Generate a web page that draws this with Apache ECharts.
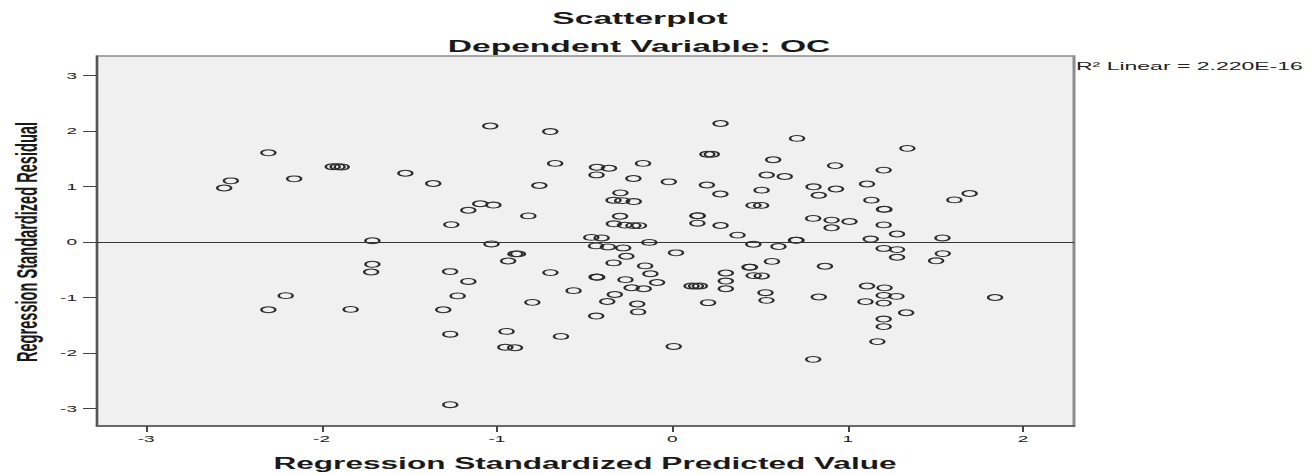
<!DOCTYPE html>
<html>
<head>
<meta charset="utf-8">
<title>Scatterplot</title>
<script src="https://cdn.jsdelivr.net/npm/echarts@6/dist/echarts.min.js"></script>
<style>
  html, body { margin: 0; padding: 0; background: #ffffff; width: 1316px; height: 475px; overflow: hidden; }
  /* the chart is laid out at half width and stretched horizontally, like the exported SPSS figure */
  #chart { width: 658px; height: 475px; transform: scaleX(2); transform-origin: 0 0; }
</style>
</head>
<body>
<div id="chart"></div>
<script>
// Regression standardized predicted values (x) and standardized residuals (y)
const predicted = [
  -2.555, -2.517, -2.303, -2.156, -1.936, -1.908, -1.885, -1.522, -1.363, -1.710,
  -1.710, -1.717, -2.204, -2.303, -1.834, -1.260, -1.163, -1.095, -1.020, -1.038,
  -0.696, -0.668, -0.758, -0.821, -1.031, -0.936, -0.895, -0.880, -1.267, -1.163,
  -1.224, -1.306, -1.266, -1.266, -0.945, -0.952, -0.897, -0.798, -0.695, -0.635,
  -0.563, -0.434, -0.371, -0.328, -0.432, -0.428, -0.267, -0.232, -0.163, -0.200,
  -0.195, -0.335, -0.262, -0.280, -0.435, -0.367, -0.462, -0.403, -0.131, -0.155,
  -0.125, -0.087, -0.430, -0.361, -0.432, -0.167, -0.222, -0.296, -0.335, -0.286,
  -0.220, -0.298, -0.333, -0.270, -0.222, -0.190, -0.020,
   0.275,  0.711,  1.340,  0.200,  0.225,  0.575,  0.928,  1.205,  0.538,  0.641,
   0.197,  0.274,  0.509,  0.805,  0.933,  0.835,  1.110,  1.135,  1.207,  1.209,
   1.695,  1.608,  0.463,  0.506,  0.143,  0.145,  0.143,  0.275,  0.803,  0.908,
   0.908,  1.010,  1.205,  1.281,  0.372,  1.131,  1.540,  0.705,  0.708,  0.462,
   0.605,  0.021,  1.205,  1.281,  1.281,  1.542,  1.504,  0.568,  0.870,  0.440,
   0.443,  0.464,  0.510,  0.305,  0.305,  0.305,  0.110,  0.135,  0.157,  0.204,
   0.531,  0.537,  0.835,  1.110,  1.210,  1.205,  1.278,  1.101,  1.205,  1.333,
   1.205,  1.205,  1.169,  0.803,  0.008,  1.840
];
const residual = [
   0.970,  1.100,  1.605,  1.136,  1.353,  1.353,  1.350,  1.237,  1.052,  0.020,
  -0.405, -0.543, -0.970, -1.225, -1.218,  0.311,  0.570,  0.687,  0.663,  2.088,
   1.988,  1.414,  1.016,  0.467, -0.038, -0.345, -0.218, -0.218, -0.536, -0.714,
  -0.975, -1.225, -1.665, -2.936, -1.615, -1.900, -1.910, -1.091, -0.555, -1.705,
  -0.880, -1.338, -1.075, -0.949, -0.634, -0.638, -0.682, -0.828, -0.845, -1.121,
  -1.263, -0.380, -0.260, -0.110, -0.073, -0.092,  0.080,  0.070, -0.010, -0.434,
  -0.576, -0.733,  1.344,  1.326,  1.206,  1.414,  1.142,  0.883,  0.750,  0.742,
   0.726,  0.462,  0.325,  0.302,  0.293,  0.293,  1.082,
   2.133,  1.865,  1.685,  1.578,  1.578,  1.480,  1.374,  1.293,  1.205,  1.178,
   1.025,  0.862,  0.932,  0.992,  0.952,  0.840,  1.042,  0.751,  0.589,  0.585,
   0.871,  0.756,  0.658,  0.657,  0.468,  0.472,  0.336,  0.294,  0.422,  0.392,
   0.253,  0.366,  0.305,  0.142,  0.121,  0.050,  0.070,  0.028,  0.030, -0.043,
  -0.085, -0.198, -0.119, -0.140, -0.278, -0.212, -0.342, -0.353, -0.441, -0.459,
  -0.455, -0.609, -0.615, -0.562, -0.707, -0.845, -0.796, -0.798, -0.797, -1.097,
  -0.917, -1.055, -0.995, -0.797, -0.830, -0.965, -0.983, -1.078, -1.104, -1.278,
  -1.392, -1.528, -1.798, -2.118, -1.886, -1.004
];

const xTicks = [-3, -2, -1, 0, 1, 2];
const yTicks = [-3, -2, -1, 0, 1, 2, 3];
const referenceLevel = [0];

const titleText = 'Scatterplot';
const subtitleText = 'Dependent Variable: OC';
const xAxisTitle = 'Regression Standardized Predicted Value';
const yAxisTitle = 'Regression Standardized Residual';
const fitLabel = 'R² Linear = 2.220E-16';

const points = predicted.map((x, i) => [x, residual[i]]);

const chart = echarts.init(document.getElementById('chart'), null, { renderer: 'svg' });

const labelFont = 'Liberation Sans, Arial, sans-serif';

chart.setOption({
  animation: false,
  backgroundColor: '#ffffff',
  grid: {
    left: 48.5, right: 121, top: 56, bottom: 49,
    show: true,
    backgroundColor: '#f0f0f0',
    borderColor: '#8c8c8c',
    borderWidth: 1.5
  },
  xAxis: {
    type: 'value',
    min: -3.28, max: 2.29,
    axisLine: { show: true, onZero: false, lineStyle: { color: '#555555', width: 1.5 } },
    axisTick: { show: true, customValues: xTicks, length: 6, lineStyle: { color: '#444444', width: 1 } },
    axisLabel: { customValues: xTicks, fontSize: 9.5, color: '#222222', margin: 8, fontFamily: labelFont },
    splitLine: { show: false }
  },
  yAxis: {
    type: 'value',
    min: -3.32, max: 3.35,
    axisLine: { show: true, onZero: false, lineStyle: { color: '#555555', width: 1 } },
    axisTick: { show: true, customValues: yTicks, length: 7, lineStyle: { color: '#444444', width: 1 } },
    axisLabel: { customValues: yTicks, fontSize: 9.5, color: '#222222', margin: 10, fontFamily: labelFont },
    splitLine: { show: false }
  },
  graphic: [
    { type: 'text', x: 320, y: 18, silent: true,
      style: { text: titleText, align: 'center', verticalAlign: 'middle',
               font: 'bold 16.8px ' + labelFont, fill: '#1a1a1a' } },
    { type: 'text', x: 319.5, y: 46, silent: true,
      style: { text: subtitleText, align: 'center', verticalAlign: 'middle',
               font: 'bold 16.8px ' + labelFont, fill: '#1a1a1a' } },
    { type: 'text', x: 292.5, y: 463, silent: true,
      style: { text: xAxisTitle, align: 'center', verticalAlign: 'middle',
               font: 'bold 15.8px ' + labelFont, fill: '#1a1a1a' } },
    { type: 'text', x: 13.5, y: 242, rotation: Math.PI / 2, silent: true,
      style: { text: yAxisTitle, align: 'center', verticalAlign: 'middle',
               font: 'bold 14.6px ' + labelFont, fill: '#1a1a1a' } },
    { type: 'text', x: 538, y: 66, silent: true,
      style: { text: fitLabel, align: 'left', verticalAlign: 'middle',
               font: '11.5px ' + labelFont, fill: '#222222' } }
  ],
  series: [{
    type: 'scatter',
    data: points,
    symbol: 'circle',
    symbolSize: [7, 5.8],
    itemStyle: { color: 'rgba(0,0,0,0)', borderColor: '#2b2b2b', borderWidth: 1.1, opacity: 1 },
    emphasis: { disabled: true },
    markLine: {
      silent: true,
      symbol: ['none', 'none'],
      label: { show: false },
      lineStyle: { color: '#333333', width: 1, type: 'solid' },
      data: referenceLevel.map(v => ({ yAxis: v }))
    }
  }]
});
</script>
</body>
</html>
